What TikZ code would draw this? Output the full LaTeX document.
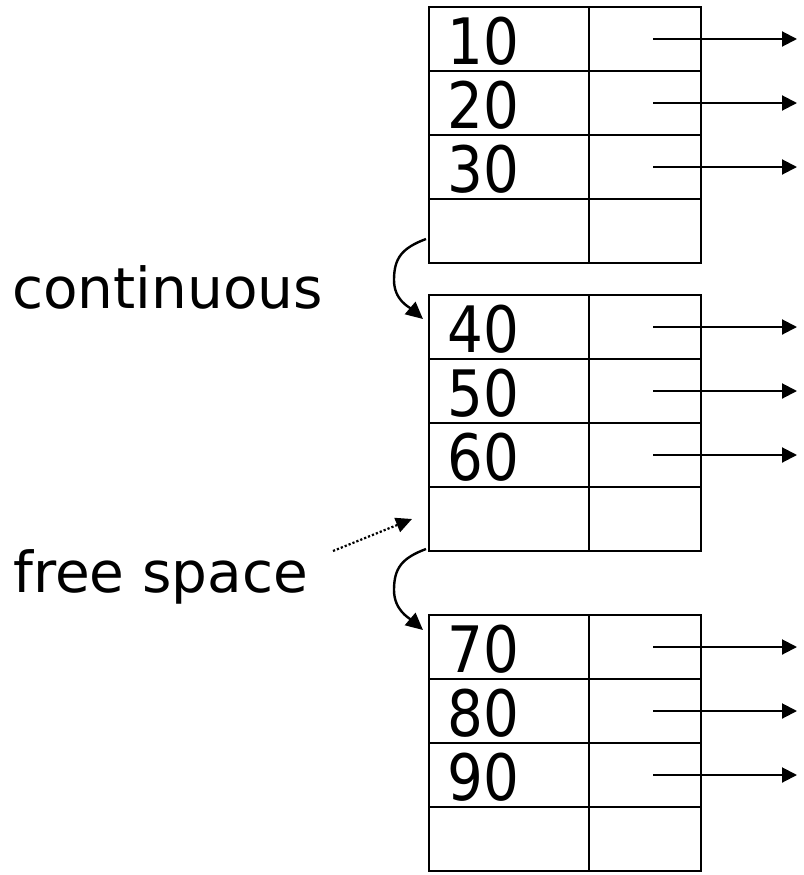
\documentclass[tikz,border=0pt]{standalone}
\usepackage{fontspec}
\setmainfont{DejaVu Sans}
\newfontfamily\numfont[FakeStretch=0.88]{DejaVu Sans}
\usetikzlibrary{arrows.meta}
\begin{document}
\begin{tikzpicture}[x=1pt,y=-1pt,
  cell/.style={draw,line width=2.8pt,minimum height=64pt,inner sep=0pt,outer sep=0pt,anchor=center},
  keycell/.style={cell,minimum width=160pt},
  ptrcell/.style={cell,minimum width=112pt},
  num/.style={anchor=base west,inner sep=0pt,font=\numfont\fontsize{64}{64}\selectfont},
  lbl/.style={anchor=base west,inner sep=0pt,font=\fontsize{56.5}{56.5}\selectfont},
  ptr/.style={line width=2pt,-{Triangle[length=15pt,width=15pt]}},
  link/.style={line width=2.4pt,-{Triangle[length=17pt,width=16pt]}},
  hint/.style={line width=2.2pt,dotted,-{Triangle[length=16pt,width=15pt]}},
]
\useasboundingbox (0,0) rectangle (803,875);
% blocks
\foreach \b/\top in {1/7,2/295,3/615}{
  \foreach \r in {1,...,4}{
    \node[keycell] (k\b\r) at (509,{\top+32+64*(\r-1)}) {};
    \node[ptrcell] (p\b\r) at (645,{\top+32+64*(\r-1)}) {};
  }
}
% keys and pointers
\foreach \b/\r/\t in {1/1/10,1/2/20,1/3/30,2/1/40,2/2/50,2/3/60,3/1/70,3/2/80,3/3/90}{
  \node[num] (n\t) at ([xshift=-62pt,yshift=6.5pt]k\b\r.south) {\t};
  \coordinate (e\b\r) at ([xshift=152pt]p\b\r.center);
  \draw[ptr] ([xshift=8pt]p\b\r.center) -- (e\b\r);
}
% labels
\node[lbl] (lc) at (12,308) {continuous};
\node[lbl] (lf) at (13,592) {free space};
% continuation links
\coordinate (m1) at (394,280);
\coordinate (m2) at (394,590);
\draw[link] ([xshift=-3pt,yshift=-8pt]k14.west) .. controls +(-24,9) and +(0,-22) .. (m1)
  .. controls +(0,20) and +(-14,-12) .. ([xshift=-6pt,yshift=-24pt]k21.north west);
\draw[link] ([xshift=-3pt,yshift=2pt]k24.south west) .. controls +(-24,9) and +(0,-22) .. (m2)
  .. controls +(0,20) and +(-14,-12) .. ([xshift=-6pt,yshift=-15pt]k31.north west);
% free space hint
\coordinate (d1) at (333,551);
\draw[hint] (d1) -- ([xshift=-17pt]k24.west);
\end{tikzpicture}
\end{document}
